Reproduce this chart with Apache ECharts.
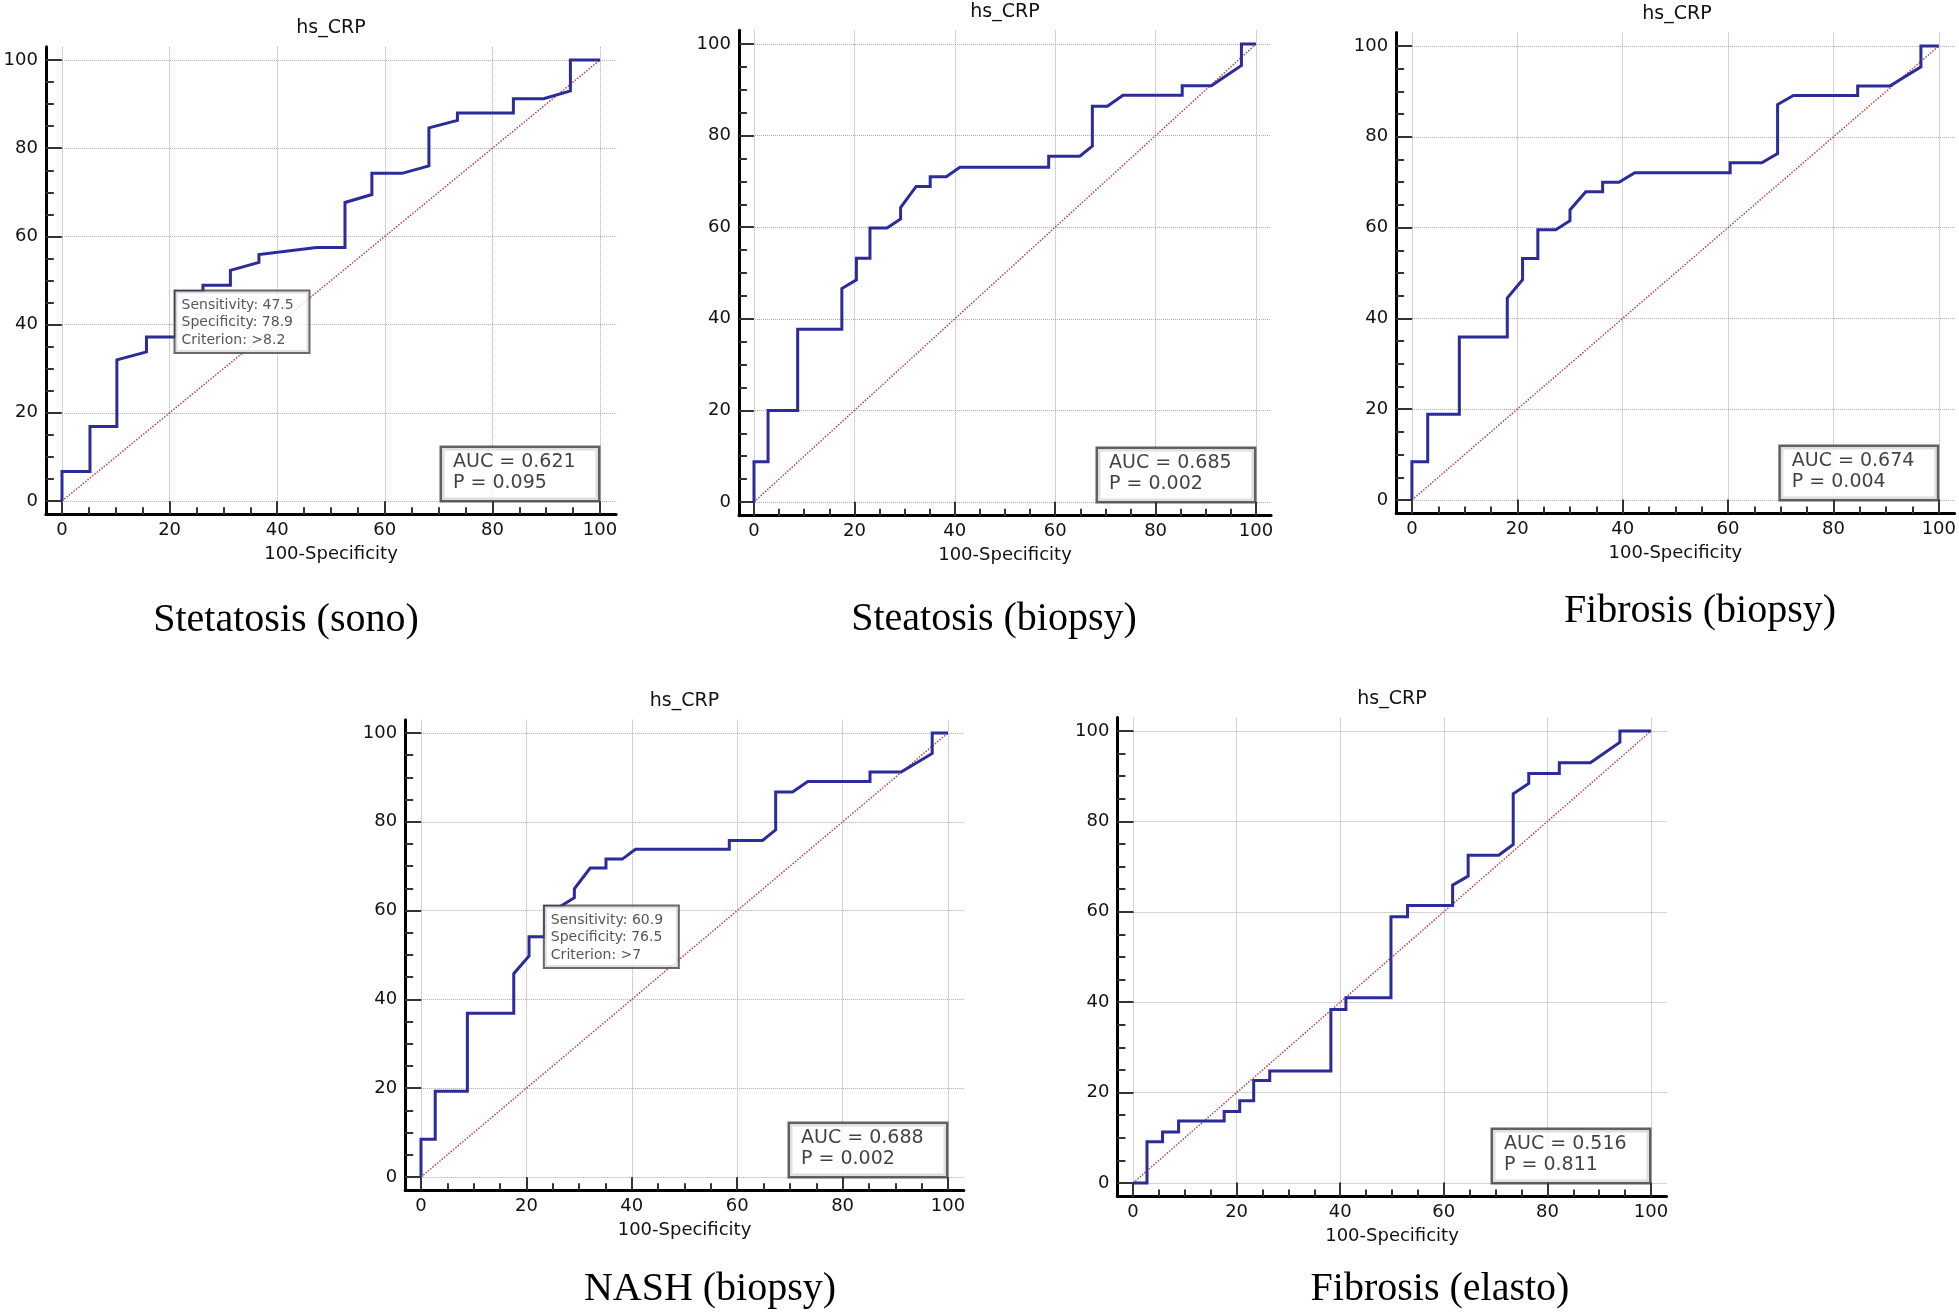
<!DOCTYPE html>
<html><head><meta charset="utf-8">
<script src="https://cdn.jsdelivr.net/npm/echarts@6/dist/echarts.min.js"></script>
<style>html,body{margin:0;padding:0;background:#fff}#c{width:1959px;height:1316px}</style>
</head><body><div id="c"></div>
<script>
// ---------- data ----------
const markerName = 'hs_CRP';
const xAxisTitle = '100-Specificity';
const panelTitles = ['Stetatosis (sono)', 'Steatosis (biopsy)', 'Fibrosis (biopsy)', 'NASH (biopsy)', 'Fibrosis (elasto)'];
const majorTicks = [0, 20, 40, 60, 80, 100];
const minorTicks = [5, 10, 15, 25, 30, 35, 45, 50, 55, 65, 70, 75, 85, 90, 95];
const chanceLine = [[0, 0], [100, 100]];

const rocSono = [[0,0],[0,6.7],[5.2,6.7],[5.2,16.9],[10.2,16.9],[10.2,32.0],[15.7,33.8],[15.7,37.2],[21.1,37.2],[21.1,47.5],[26.2,47.5],[26.2,48.9],[31.3,48.9],[31.3,52.3],[36.6,54.1],[36.6,55.9],[47.3,57.5],[52.6,57.5],[52.6,67.7],[57.6,69.5],[57.6,74.3],[63.2,74.3],[68.2,76.0],[68.2,84.6],[73.5,86.3],[73.5,88.0],[83.9,88.0],[83.9,91.2],[89.5,91.2],[94.5,93.0],[94.5,100],[100,100]];
const rocSteatosisBiopsy = [[0,0],[0,8.8],[2.8,8.8],[2.8,20.0],[8.7,20.0],[8.7,37.7],[17.5,37.7],[17.5,46.6],[20.4,48.5],[20.4,53.2],[23.1,53.2],[23.1,59.8],[26.5,59.8],[29.2,61.8],[29.2,64.3],[32.3,68.9],[35.1,68.9],[35.1,71.0],[38.3,71.0],[41.0,73.1],[58.7,73.1],[58.7,75.5],[64.9,75.5],[67.4,77.7],[67.4,86.4],[70.4,86.4],[73.5,88.8],[85.3,88.8],[85.3,90.9],[91.1,90.9],[97.1,95.3],[97.1,100],[100,100]];
const rocFibrosisBiopsy = [[0,0],[0,8.4],[3.0,8.4],[3.0,18.9],[9.0,18.9],[9.0,35.9],[18.1,35.9],[18.1,44.5],[21.0,48.5],[21.0,53.2],[23.9,53.2],[23.9,59.5],[27.3,59.5],[30.0,61.5],[30.0,63.9],[33.0,67.9],[36.2,67.9],[36.2,70.0],[39.3,70.0],[42.3,72.1],[60.4,72.1],[60.4,74.3],[66.4,74.3],[69.4,76.3],[69.4,87.1],[72.4,89.1],[84.6,89.1],[84.6,91.2],[90.7,91.2],[96.6,95.4],[96.6,100],[100,100]];
const rocNash = [[0,0],[0,8.5],[2.7,8.5],[2.7,19.3],[8.8,19.3],[8.8,36.9],[17.6,36.9],[17.6,45.8],[20.5,49.8],[20.5,54.1],[23.5,54.1],[23.5,60.9],[26.4,60.9],[29.1,62.9],[29.1,64.9],[32.1,69.6],[35.1,69.6],[35.1,71.6],[38.2,71.6],[40.7,73.8],[58.5,73.8],[58.5,75.8],[64.8,75.8],[67.3,78.2],[67.3,86.7],[70.5,86.7],[73.4,89.1],[85.2,89.1],[85.2,91.2],[91.1,91.2],[97.0,95.4],[97.0,100],[100,100]];
const rocFibrosisElasto = [[0,0],[2.7,0],[2.7,9.1],[5.7,9.1],[5.7,11.3],[8.8,11.3],[8.8,13.7],[17.6,13.7],[17.6,15.8],[20.6,15.8],[20.6,18.2],[23.3,18.2],[23.3,22.7],[26.4,22.7],[26.4,24.8],[38.2,24.8],[38.2,38.4],[41.1,38.4],[41.1,41.0],[49.8,41.0],[49.8,58.9],[53.0,58.9],[53.0,61.4],[61.7,61.4],[61.7,65.9],[64.7,67.9],[64.7,72.5],[70.6,72.5],[73.4,74.9],[73.4,86.1],[76.4,88.4],[76.4,90.6],[82.3,90.6],[82.3,93.0],[88.3,93.0],[94.0,97.5],[94.0,100],[100,100]];
const rocCurves = [rocSono, rocSteatosisBiopsy, rocFibrosisBiopsy, rocNash, rocFibrosisElasto];

const aucValues = ['0.621', '0.685', '0.674', '0.688', '0.516'];
const pValues = ['0.095', '0.002', '0.004', '0.002', '0.811'];
const cutoffPanels = [0, 3];
const cutoffSensitivity = [47.5, 60.9];
const cutoffSpecificity = [78.9, 76.5];
const cutoffCriterion = ['>8.2', '>7'];

// ---------- layout ----------
const frames = [
  {x0: 62,   x100: 600,  y100: 60,  y0: 501,  titleY: 28,  subX: 286,  subY: 620},
  {x0: 754,  x100: 1256, y100: 44,  y0: 502,  titleY: 12,  subX: 994,  subY: 619},
  {x0: 1412, x100: 1942, y100: 46,  y0: 500,  titleY: 14,  subX: 1700, subY: 611},
  {x0: 421,  x100: 948,  y100: 733, y0: 1177, titleY: 701, subX: 710,  subY: 1289},
  {x0: 1133, x100: 1651, y100: 731, y0: 1183, titleY: 699, subX: 1440, subY: 1289}
];
const EXT = 0.03;
const SANS = 'DejaVu Sans';

const grid = [], xAxis = [], yAxis = [], series = [], graphics = [];
frames.forEach((f, i) => {
  const w = f.x100 - f.x0, h = f.y0 - f.y100;
  grid.push({left: f.x0 - EXT * w, top: f.y100 - EXT * h, width: w * (1 + 2 * EXT), height: h * (1 + 2 * EXT), containLabel: false});
  const common = {type: 'value', gridIndex: i, min: -3, max: 103};
  xAxis.push(Object.assign({}, common, {
    position: 'bottom',
    axisLine: {show: true, onZero: false, lineStyle: {color: '#000', width: 3}},
    axisTick: {show: true, inside: true, length: Math.round(EXT * h), customValues: majorTicks, lineStyle: {color: '#333', width: 2}},
    axisLabel: {show: true, customValues: majorTicks, margin: 7, fontSize: 18, fontFamily: SANS, color: '#111'},
    splitLine: {show: true, lineStyle: {type: 'dotted', color: '#a8a8a8', width: 1}},
    name: xAxisTitle, nameLocation: 'middle', nameGap: 31,
    nameTextStyle: {fontSize: 18, fontFamily: SANS, color: '#111'}
  }));
  xAxis.push(Object.assign({}, common, {
    position: 'bottom',
    axisLine: {show: false, onZero: false},
    axisTick: {show: true, inside: true, length: Math.round(EXT * h / 2), customValues: minorTicks, lineStyle: {color: '#333', width: 2}},
    axisLabel: {show: false}, splitLine: {show: false}
  }));
  yAxis.push(Object.assign({}, common, {
    position: 'left',
    axisLine: {show: true, onZero: false, lineStyle: {color: '#000', width: 3}},
    axisTick: {show: true, inside: true, length: Math.round(EXT * w), customValues: majorTicks, lineStyle: {color: '#333', width: 2}},
    axisLabel: {show: true, customValues: majorTicks, margin: 8, fontSize: 18, fontFamily: SANS, color: '#111'},
    splitLine: {show: true, lineStyle: {type: 'dotted', color: '#a8a8a8', width: 1}}
  }));
  yAxis.push(Object.assign({}, common, {
    position: 'left',
    axisLine: {show: false, onZero: false},
    axisTick: {show: true, inside: true, length: Math.round(EXT * w / 2), customValues: minorTicks, lineStyle: {color: '#333', width: 2}},
    axisLabel: {show: false}, splitLine: {show: false}
  }));
  const xi = 2 * i, yi = 2 * i;
  series.push({
    type: 'line', xAxisIndex: xi, yAxisIndex: yi, data: chanceLine, symbol: 'none', silent: true, z: 2,
    lineStyle: {color: '#b84848', width: 1.5, type: 'dotted'}
  });
  series.push({
    type: 'line', xAxisIndex: xi, yAxisIndex: yi, data: rocCurves[i], symbol: 'none', silent: true, z: 3,
    lineStyle: {color: '#2b2b9a', width: 3, join: 'miter'}
  });
  series.push({
    type: 'scatter', xAxisIndex: xi, yAxisIndex: yi, data: [[100, 0]], symbolSize: 1, silent: true, z: 5,
    itemStyle: {color: 'rgba(0,0,0,0)'},
    label: {
      show: true, position: 'inside', align: 'right', verticalAlign: 'bottom', offset: [-2, -1],
      formatter: '{t|AUC = ' + aucValues[i] + '}\n{t|P = ' + pValues[i] + '}',
      rich: {t: {fontSize: 19, lineHeight: 21, fontFamily: SANS, color: '#111', align: 'left', width: 125}},
      fontSize: 19, lineHeight: 21, fontFamily: SANS, color: '#111',
      backgroundColor: '#fff', borderColor: '#3a3a3a', borderWidth: 2.5,
      padding: [4, 20, 6, 11], width: 125
    }
  });
  graphics.push({type: 'text', x: (f.x0 + f.x100) / 2, y: f.titleY, z: 10,
    style: {text: markerName, font: '19px "DejaVu Sans"', fill: '#111', align: 'center', verticalAlign: 'middle', textAlign: 'center', textVerticalAlign: 'middle'}});
  graphics.push({type: 'text', x: f.subX, y: f.subY, z: 10,
    style: {text: panelTitles[i], font: '40px "Liberation Serif"', fill: '#000', align: 'center', verticalAlign: 'middle', textAlign: 'center', textVerticalAlign: 'middle'}});
});

cutoffPanels.forEach((p, k) => {
  series.push({
    type: 'scatter', xAxisIndex: 2 * p, yAxisIndex: 2 * p,
    data: [[100 - cutoffSpecificity[k], cutoffSensitivity[k]]], symbolSize: 1, silent: true, z: 6,
    itemStyle: {color: 'rgba(0,0,0,0)'},
    label: {
      show: true, position: 'inside', align: 'left', verticalAlign: 'top',
      formatter: 'Sensitivity: ' + cutoffSensitivity[k] + '\nSpecificity: ' + cutoffSpecificity[k] + '\nCriterion: ' + cutoffCriterion[k],
      fontSize: 14, lineHeight: 17.5, fontFamily: SANS, color: '#2a2a2a',
      backgroundColor: '#fff', borderColor: '#444', borderWidth: 2,
      padding: [5, 10, 3, 6], width: 117
    }
  });
});

const chart = echarts.init(document.getElementById('c'), null, {renderer: 'canvas'});
chart.setOption({
  animation: false,
  backgroundColor: '#fff',
  grid, xAxis, yAxis, series,
  graphic: {elements: graphics}
});
</script></body></html>
